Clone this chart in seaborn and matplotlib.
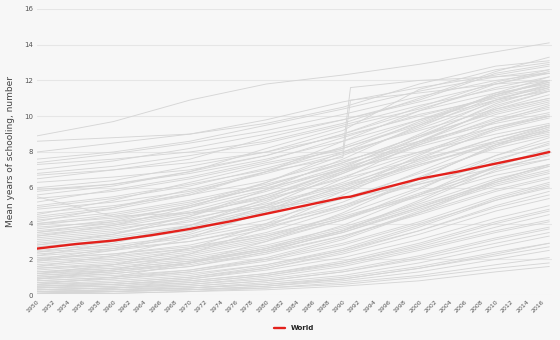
import numpy as np
import pandas as pd
import matplotlib
matplotlib.use("Agg")
import matplotlib.pyplot as plt
import seaborn as sns

# ---------------- data ----------------
years = [1950, 1960, 1970, 1980, 1990, 2000, 2010, 2017]

country_values = [
    [8.9, 9.7, 10.9, 11.8, 12.3, 12.9, 13.6, 14.1],
    [8.6, 8.8, 9.0, 9.6, 10.5, 11.8, 12.8, 13.1],
    [8.0, 8.5, 9.0, 9.8, 10.8, 11.6, 12.3, 12.8],
    [7.6, 8.0, 8.6, 9.5, 10.4, 11.4, 12.2, 12.6],
    [7.3, 7.6, 8.0, 8.6, 9.6, 11.0, 12.5, 13.3],
    [7.0, 7.5, 8.2, 9.0, 9.8, 10.8, 11.8, 12.4],
    [6.8, 7.2, 7.8, 8.5, 9.5, 10.6, 11.5, 12.0],
    [6.5, 7.0, 7.6, 8.8, 9.8, 10.9, 12.4, 12.9],
    [6.3, 6.6, 7.0, 7.8, 9.0, 10.3, 11.3, 11.8],
    [6.0, 6.4, 7.2, 8.0, 9.2, 11.5, 12.6, 13.0],
    [5.9, 6.2, 6.8, 7.6, 8.6, 9.8, 10.9, 11.4],
    [5.6, 6.1, 6.9, 8.2, 9.4, 10.4, 11.6, 12.2],
    [5.4, 5.8, 6.5, 7.4, 8.2, 9.6, 11.2, 12.0],
    [5.2, 5.9, 6.6, 7.5, 8.8, 10.1, 11.0, 11.6],
    [5.0, 5.5, 6.2, 7.0, 8.0, 9.2, 10.4, 11.0],
    [4.8, 5.2, 5.8, 6.8, 7.9, 9.3, 10.8, 11.5],
    [4.6, 5.0, 5.6, 6.4, 7.5, 8.6, 9.6, 10.2],
    [4.4, 4.9, 5.7, 6.9, 8.3, 9.8, 11.2, 11.9],
    [4.2, 4.6, 5.3, 6.2, 7.3, 8.5, 9.8, 10.5],
    [4.0, 4.5, 5.2, 6.0, 7.0, 8.0, 9.0, 9.6],
    [4.0, 4.3, 4.9, 5.9, 7.2, 8.8, 10.3, 11.0],
    [3.9, 4.4, 5.1, 6.3, 7.8, 9.4, 11.1, 12.0],
    [3.8, 4.1, 4.6, 5.4, 6.5, 7.6, 8.6, 9.2],
    [3.7, 4.2, 5.0, 6.1, 7.4, 8.9, 10.2, 10.9],
    [3.6, 4.0, 4.7, 5.8, 7.1, 8.4, 9.7, 10.4],
    [3.5, 3.9, 4.6, 5.6, 6.9, 8.3, 9.4, 10.0],
    [3.4, 3.8, 4.5, 5.5, 6.8, 8.4, 9.9, 10.7],
    [3.3, 3.7, 4.3, 5.1, 6.2, 7.5, 8.8, 9.5],
    [3.2, 3.6, 4.4, 5.6, 7.0, 8.6, 10.1, 10.8],
    [3.1, 3.5, 4.1, 5.0, 6.1, 7.3, 8.4, 9.0],
    [3.0, 3.4, 4.2, 5.3, 6.6, 8.0, 9.4, 10.1],
    [2.9, 3.3, 3.9, 4.9, 6.3, 7.9, 9.3, 10.0],
    [2.8, 3.2, 3.8, 4.8, 6.0, 7.4, 8.8, 9.5],
    [2.7, 3.1, 3.7, 4.7, 5.9, 7.3, 8.5, 9.1],
    [2.6, 3.0, 3.6, 4.6, 5.8, 7.2, 8.6, 9.4],
    [5.5, 4.4, 4.6, 4.9, 5.4, 6.2, 7.1, 7.6],
    [2.5, 2.8, 3.3, 4.2, 5.4, 6.8, 8.2, 8.9],
    [2.4, 2.7, 3.2, 4.0, 5.0, 6.2, 7.4, 8.0],
    [2.3, 2.6, 3.0, 3.8, 4.9, 6.3, 7.8, 8.6],
    [2.2, 2.5, 3.0, 3.9, 5.2, 6.9, 8.6, 9.5],
    [2.1, 2.3, 2.7, 3.4, 4.4, 5.6, 6.9, 7.6],
    [2.0, 2.3, 2.8, 3.7, 5.0, 6.6, 8.3, 9.2],
    [1.9, 2.2, 2.6, 3.3, 4.3, 5.5, 6.7, 7.3],
    [1.8, 2.1, 2.6, 3.5, 4.8, 6.5, 8.4, 9.4],
    [1.7, 2.0, 2.5, 3.3, 4.5, 6.0, 7.6, 8.4],
    [1.6, 1.9, 2.4, 3.2, 4.3, 5.7, 7.1, 7.8],
    [1.5, 1.8, 2.3, 3.1, 4.2, 5.6, 7.2, 8.1],
    [1.5, 1.7, 2.1, 2.8, 3.8, 5.1, 6.5, 7.2],
    [1.4, 1.7, 2.2, 3.0, 4.2, 5.9, 7.8, 8.8],
    [1.3, 1.6, 2.0, 2.7, 3.7, 5.0, 6.3, 7.0],
    [1.3, 1.5, 1.9, 2.6, 3.6, 5.2, 7.0, 7.9],
    [1.2, 1.5, 1.9, 2.6, 3.6, 4.9, 6.2, 6.9],
    [1.2, 1.4, 1.8, 2.5, 3.5, 4.9, 6.4, 7.3],
    [1.1, 1.4, 1.8, 2.5, 3.5, 4.8, 6.1, 6.8],
    [1.1, 1.3, 1.7, 2.4, 3.3, 4.5, 5.8, 6.5],
    [1.0, 1.3, 1.8, 2.6, 3.9, 5.6, 7.5, 8.5],
    [1.0, 1.2, 1.6, 2.3, 3.3, 4.6, 5.9, 6.6],
    [0.9, 1.2, 1.6, 2.4, 3.6, 5.3, 7.2, 8.2],
    [0.9, 1.1, 1.4, 2.0, 2.9, 4.1, 5.5, 6.3],
    [0.8, 1.0, 1.4, 2.1, 3.2, 4.7, 6.4, 7.3],
    [0.8, 1.0, 1.3, 1.9, 2.8, 4.0, 5.3, 6.0],
    [0.7, 0.9, 1.3, 2.0, 3.1, 4.6, 6.3, 7.2],
    [0.7, 0.9, 1.2, 1.7, 2.5, 3.6, 4.9, 5.6],
    [0.6, 0.8, 1.1, 1.7, 2.6, 3.9, 5.4, 6.2],
    [0.6, 0.7, 1.0, 1.5, 2.3, 3.4, 4.7, 5.4],
    [0.5, 0.7, 1.0, 1.6, 2.5, 3.8, 5.3, 6.1],
    [0.5, 0.6, 0.9, 1.4, 2.1, 3.1, 4.3, 5.0],
    [0.5, 0.6, 0.8, 1.2, 1.9, 2.9, 4.1, 4.8],
    [0.4, 0.6, 0.9, 1.5, 2.4, 3.6, 5.0, 5.8],
    [0.4, 0.5, 0.8, 1.2, 1.8, 2.7, 3.8, 4.5],
    [0.4, 0.5, 0.7, 1.1, 1.7, 2.6, 3.6, 4.2],
    [0.3, 0.4, 0.7, 1.1, 1.8, 2.8, 4.0, 4.7],
    [0.3, 0.4, 0.6, 1.0, 1.6, 2.5, 3.5, 4.1],
    [0.3, 0.4, 0.6, 0.9, 1.4, 2.2, 3.2, 3.8],
    [0.3, 0.4, 0.5, 0.8, 1.3, 2.0, 2.9, 3.5],
    [0.2, 0.3, 0.5, 0.8, 1.3, 2.1, 3.1, 3.7],
    [0.2, 0.3, 0.4, 0.7, 1.1, 1.8, 2.7, 3.3],
    [0.2, 0.3, 0.4, 0.6, 1.0, 1.6, 2.4, 2.9],
    [0.2, 0.2, 0.4, 0.6, 0.9, 1.5, 2.2, 2.7],
    [0.1, 0.2, 0.3, 0.5, 0.8, 1.3, 2.0, 2.5],
    [0.1, 0.2, 0.3, 0.4, 0.7, 1.1, 1.7, 2.1],
    [0.1, 0.1, 0.2, 0.4, 0.6, 1.0, 1.5, 1.8],
    [0.1, 0.2, 0.3, 0.5, 0.9, 1.5, 2.3, 2.9],
    [0.1, 0.1, 0.2, 0.3, 0.5, 0.8, 1.3, 1.6],
    [2.0, 2.6, 3.5, 5.0, 6.8, 8.6, 10.4, 11.2],
    [1.6, 2.2, 3.2, 4.7, 6.5, 8.5, 10.5, 11.4],
    [2.8, 3.4, 4.4, 5.9, 7.6, 9.5, 11.3, 12.2],
    [4.3, 4.8, 5.6, 6.9, 8.6, 10.3, 11.8, 12.5],
    [3.3, 3.9, 4.9, 6.3, 8.0, 9.7, 11.2, 11.9],
    [1.2, 1.7, 2.6, 4.0, 5.8, 7.8, 9.7, 10.6],
    [0.9, 1.4, 2.3, 3.8, 5.6, 7.6, 9.3, 10.0],
    [2.4, 3.0, 3.9, 5.2, 6.9, 8.8, 10.7, 11.6],
    [5.8, 6.2, 6.9, 7.8, 9.0, 10.5, 11.9, 12.6],
    [6.7, 7.0, 7.4, 8.0, 8.9, 10.0, 11.1, 11.7],
    [0.6, 1.0, 1.8, 3.0, 4.6, 6.5, 8.4, 9.3],
    [1.9, 2.5, 3.4, 4.6, 6.1, 7.7, 9.2, 9.9],
    [3.5, 4.1, 5.0, 6.1, 7.4, 8.9, 10.6, 11.4],
    [7.4, 7.9, 8.5, 9.2, 10.1, 11.1, 12.0, 12.4],
    [4.9, 5.4, 6.1, 7.1, 8.2, 9.5, 10.9, 11.7],
    [2.2, 2.9, 3.9, 5.4, 7.1, 9.0, 10.9, 11.8],
]

# a few series with a break around 1990/1991
jump_years = [1950, 1960, 1970, 1980, 1990, 1991, 2000, 2010, 2017]
jump_values = [
    [4.5, 5.3, 6.3, 7.3, 8.1, 11.6, 12.0, 12.2, 12.4],
    [4.1, 4.9, 5.9, 6.9, 7.7, 10.9, 11.3, 11.8, 12.0],
]

world_years = [1950, 1955, 1960, 1965, 1970, 1975, 1980, 1985, 1990, 1991,
               1995, 2000, 2005, 2010, 2015, 2017]
world_values = [2.6, 2.85, 3.05, 3.35, 3.7, 4.1, 4.55, 5.0, 5.45, 5.5,
                5.95, 6.5, 6.9, 7.35, 7.8, 8.0]

x_ticks = list(range(1950, 2017, 2))
y_ticks = [0, 2, 4, 6, 8, 10, 12, 14, 16]

# ---------------- build tables ----------------
rows = []
for i, vals in enumerate(country_values):
    for y, v in zip(years, vals):
        rows.append({"country": f"c{i}", "year": y, "value": v})
for j, vals in enumerate(jump_values):
    for y, v in zip(jump_years, vals):
        rows.append({"country": f"j{j}", "year": y, "value": v})
countries = pd.DataFrame(rows)
world = pd.DataFrame({"year": world_years, "value": world_values})

# ---------------- plot ----------------
sns.set_theme(style="white")
bg = "#f7f7f7"
fig = plt.figure(figsize=(5.6, 3.4), dpi=100, facecolor=bg)
ax = fig.add_axes([0.066, 0.132, 0.919, 0.842], facecolor=bg)

sns.lineplot(data=countries, x="year", y="value", units="country",
             estimator=None, color="#d6d6d6", linewidth=0.65, ax=ax,
             legend=False)
sns.lineplot(data=world, x="year", y="value", color="#e3211c",
             linewidth=1.7, ax=ax, label="World")

ax.set_xlim(1950, 2017.3)
ax.set_ylim(0, 16)
ax.set_yticks(y_ticks)
ax.set_yticklabels([str(t) for t in y_ticks], fontsize=5, color="#555555")
ax.set_xticks(x_ticks)
ax.set_xticklabels([str(t) for t in x_ticks], fontsize=4.5, color="#555555",
                   rotation=45, ha="right", rotation_mode="anchor")
ax.tick_params(axis="both", length=0, pad=3)
ax.yaxis.grid(True, color="#e6e6e6", linewidth=0.8)
ax.set_axisbelow(True)
for s in ax.spines.values():
    s.set_visible(False)
ax.set_xlabel("")
ax.set_ylabel("Mean years of schooling, number", fontsize=6.5, color="#444444",
              labelpad=6)

leg = ax.legend(loc="center", bbox_to_anchor=(0.5, -0.115), frameon=False,
                fontsize=5, handlelength=1.6)
for t in leg.get_texts():
    t.set_fontweight("bold")
    t.set_color("#222222")

fig.savefig("out.png", dpi=100, facecolor=bg)
